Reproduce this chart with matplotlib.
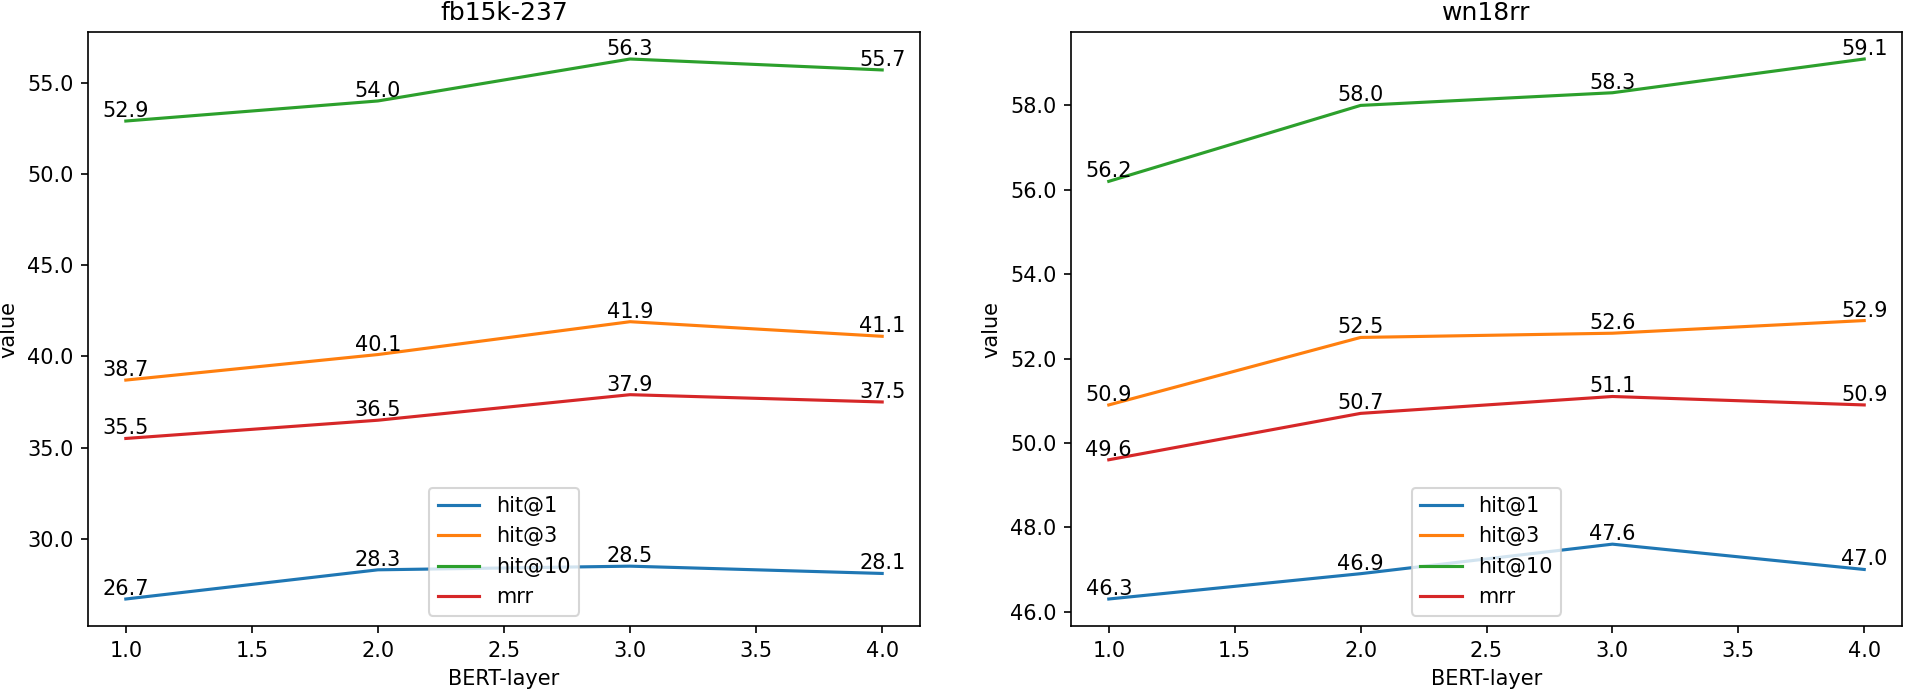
import matplotlib
matplotlib.use('Agg')
from matplotlib import pyplot as plt
from matplotlib.ticker import FormatStrFormatter

layers = [1.0, 2.0, 3.0, 4.0]
metrics = ["hit@1", "hit@3", "hit@10", "mrr"]

fb_hit1 = [26.7, 28.3, 28.5, 28.1]
fb_hit3 = [38.7, 40.1, 41.9, 41.1]
fb_hit10 = [52.9, 54.0, 56.3, 55.7]
fb_mrr = [35.5, 36.5, 37.9, 37.5]

wn_hit1 = [46.3, 46.9, 47.6, 47.0]
wn_hit3 = [50.9, 52.5, 52.6, 52.9]
wn_hit10 = [56.2, 58.0, 58.3, 59.1]
wn_mrr = [49.6, 50.7, 51.1, 50.9]

datasets = [
	("fb15k-237", [fb_hit1, fb_hit3, fb_hit10, fb_mrr]),
	("wn18rr", [wn_hit1, wn_hit3, wn_hit10, wn_mrr]),
]

W, H = 1906, 690
fig = plt.figure(figsize=(W / 150, H / 150), dpi=150)
boxes = [(88, 920), (1071, 1902)]
top, bottom = 32, 626

for (name, series), (x0, x1) in zip(datasets, boxes):
	ax = fig.add_axes([x0 / W, 1 - bottom / H, (x1 - x0) / W, (bottom - top) / H])
	for label, vals in zip(metrics, series):
		ax.plot(layers, vals, label=label)
		for x, y in zip(layers, vals):
			ax.text(x, y, "{:.1f}".format(y), ha='center', va='bottom')
	ax.set_title(name)
	ax.set_xlabel("BERT-layer")
	ax.set_ylabel("value")
	ax.xaxis.set_major_formatter(FormatStrFormatter('%.1f'))
	ax.yaxis.set_major_formatter(FormatStrFormatter('%.1f'))
	ax.legend(loc='lower center')

fig.savefig("out.png", dpi=150)
